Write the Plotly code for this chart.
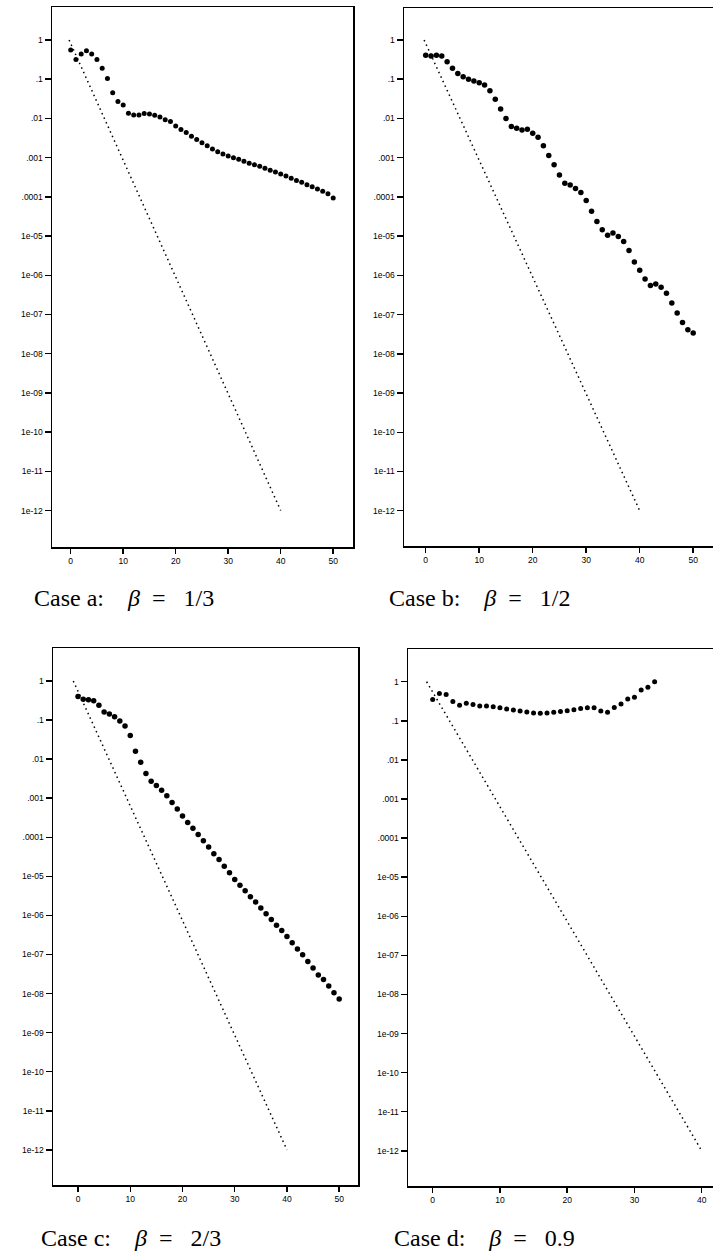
import plotly.graph_objects as go

W, H = 713, 1253

# ---------------- data ----------------
n_a = list(range(0, 51))
vals_a = [0.56, 0.32, 0.44, 0.53, 0.44, 0.32, 0.19, 0.105, 0.045, 0.027,
          0.022, 0.0135, 0.0123, 0.0123, 0.0133, 0.0129, 0.012, 0.0109, 0.0093, 0.0083,
          0.0064, 0.0052, 0.0044, 0.0035, 0.0029, 0.0024, 0.0020, 0.00166, 0.00141, 0.00123,
          0.0011, 1.0e-3, 9.1e-4, 8.1e-4, 7.2e-4, 6.6e-4, 6.0e-4, 5.4e-4, 4.8e-4, 4.3e-4,
          3.8e-4, 3.4e-4, 3.0e-4, 2.6e-4, 2.35e-4, 2.05e-4, 1.82e-4, 1.58e-4, 1.38e-4, 1.2e-4,
          9.3e-5]

n_b = list(range(0, 51))
vals_b = [0.41, 0.39, 0.41, 0.39, 0.28, 0.19, 0.14, 0.116, 0.10, 0.090,
          0.081, 0.071, 0.051, 0.031, 0.0174, 0.0100, 0.0062, 0.0056, 0.0051, 0.0053,
          0.0042, 0.0033, 0.0020, 0.00113, 0.00066, 0.00036, 0.000224, 0.0002, 0.000163, 0.000129,
          8.1e-5, 4.3e-5, 2.36e-5, 1.45e-5, 1.06e-5, 1.2e-5, 9.8e-6, 7.3e-6, 4.3e-6, 2.2e-6,
          1.34e-6, 8.1e-7, 5.5e-7, 6.0e-7, 5.0e-7, 3.5e-7, 1.96e-7, 1.1e-7, 6.3e-8, 4.1e-8,
          3.4e-8]

n_c = list(range(0, 51))
vals_c = [0.40, 0.34, 0.33, 0.31, 0.24, 0.16, 0.143, 0.122, 0.095, 0.070,
          0.040, 0.016, 0.0083, 0.0043, 0.0027, 0.0021, 0.0016, 0.00115, 0.00078, 0.00053,
          0.00035, 0.00024, 0.00017, 0.000117, 8.1e-5, 5.6e-5, 3.8e-5, 2.7e-5, 1.8e-5, 1.23e-5,
          8.3e-6, 5.9e-6, 4.3e-6, 3.0e-6, 2.2e-6, 1.55e-6, 1.1e-6, 7.9e-7, 5.6e-7, 4.1e-7,
          2.9e-7, 2.0e-7, 1.39e-7, 9.8e-8, 6.6e-8, 4.5e-8, 3.0e-8, 2.3e-8, 1.55e-8, 1.05e-8,
          7.2e-9]

n_d = list(range(0, 34))
vals_d = [0.35, 0.50, 0.47, 0.31, 0.25, 0.28, 0.26, 0.24, 0.24, 0.23,
          0.215, 0.20, 0.19, 0.178, 0.168, 0.158, 0.155, 0.158, 0.165, 0.172,
          0.182, 0.193, 0.205, 0.215, 0.215, 0.178, 0.165, 0.22, 0.27, 0.36,
          0.40, 0.61, 0.72, 1.0]

# dotted reference line (end points)
ref_x_ab = [-0.3, 40]
ref_x_cd = [-0.9, 40]
ref_y = [1.0, 1e-12]

ytick_vals = [1, 0.1, 0.01, 0.001, 0.0001, 1e-5, 1e-6, 1e-7, 1e-8, 1e-9, 1e-10, 1e-11, 1e-12]
ytick_text = ["1", ".1", ".01", ".001", ".0001", "1e-05", "1e-06", "1e-07", "1e-08",
              "1e-09", "1e-10", "1e-11", "1e-12"]
xtick_vals_50 = [0, 10, 20, 30, 40, 50]
xtick_vals_40 = [0, 10, 20, 30, 40]

captions = ["Case a:", "Case b:", "Case c:", "Case d:"]
betas = ["1/3", "1/2", "2/3", "0.9"]

# ---------------- layout geometry (pixels) ----------------
panels = [
    dict(px=(52, 353), py=(7, 547), xr=(-3.56, 53.77), yr=(-12.93, 0.842), mir=True,
         xt=xtick_vals_50, n=n_a, v=vals_a, rx=ref_x_ab, ms=5),
    dict(px=(404, 713), py=(8, 546), xr=(-4.06, 53.7), yr=(-12.90, 0.816), mir=False,
         xt=xtick_vals_50, n=n_b, v=vals_b, rx=ref_x_ab, ms=5.5),
    dict(px=(53, 358), py=(648, 1185), xr=(-4.79, 53.6), yr=(-12.90, 0.844), mir=True,
         xt=xtick_vals_50, n=n_c, v=vals_c, rx=ref_x_cd, ms=5.5),
    dict(px=(408, 713), py=(649, 1186), xr=(-3.67, 41.68), yr=(-12.90, 0.837), mir=False,
         xt=xtick_vals_40, n=n_d, v=vals_d, rx=ref_x_cd, ms=5),
]
cap_pos = [(32, 598), (387, 598), (39, 1238), (392, 1238)]

tickfont = dict(family="Liberation Sans", size=8.5, color="black")

fig = go.Figure()
layout = dict(width=W, height=H, margin=dict(l=0, r=0, t=0, b=0),
              paper_bgcolor="white", plot_bgcolor="white", showlegend=False)

annotations = []
for i, p in enumerate(panels):
    k = "" if i == 0 else str(i + 1)
    xa, ya = "x" + k, "y" + k
    fig.add_trace(go.Scatter(x=p["rx"], y=ref_y, mode="lines", xaxis=xa, yaxis=ya,
                             line=dict(color="black", width=1.5, dash="1.5px,3.5px"),
                             hoverinfo="skip"))
    fig.add_trace(go.Scatter(x=p["n"], y=p["v"], mode="markers", xaxis=xa, yaxis=ya,
                             marker=dict(color="black", size=p["ms"], symbol="circle"),
                             hoverinfo="skip"))
    x0, x1 = p["px"]
    y0, y1 = p["py"]
    layout["xaxis" + k] = dict(domain=[x0 / W, x1 / W], range=list(p["xr"]), anchor=ya,
                               tickvals=p["xt"], ticks="outside", ticklen=5, tickwidth=1.5,
                               tickcolor="black", showline=True, linecolor="black",
                               linewidth=1.5, mirror=True, showgrid=False, zeroline=False,
                               tickfont=tickfont)
    layout["yaxis" + k] = dict(domain=[1 - y1 / H, 1 - y0 / H], range=list(p["yr"]),
                               type="log", anchor=xa, tickvals=ytick_vals, ticktext=ytick_text,
                               ticks="outside", ticklen=6, tickwidth=1.5, tickcolor="black",
                               showline=True, linecolor="black", linewidth=1.5,
                               mirror=p["mir"], showgrid=False, zeroline=False,
                               tickfont=tickfont)
    cx, cy = cap_pos[i]
    nb = "\u00a0"
    txt = (captions[i] + nb * 4 + "<i>β</i>" + nb * 2 + "=" + nb * 3 + betas[i])
    annotations.append(dict(text=txt, x=cx / W, y=1 - cy / H, xref="paper", yref="paper",
                            xanchor="left", yanchor="middle", showarrow=False,
                            font=dict(family="Liberation Serif", size=24, color="black")))

layout["annotations"] = annotations
fig.update_layout(**layout)
fig.write_html("out.html",
               config={"displayModeBar": False, "staticPlot": True},
               post_script="document.body.style.margin='0px';"
                           "document.documentElement.style.overflow='hidden';")
